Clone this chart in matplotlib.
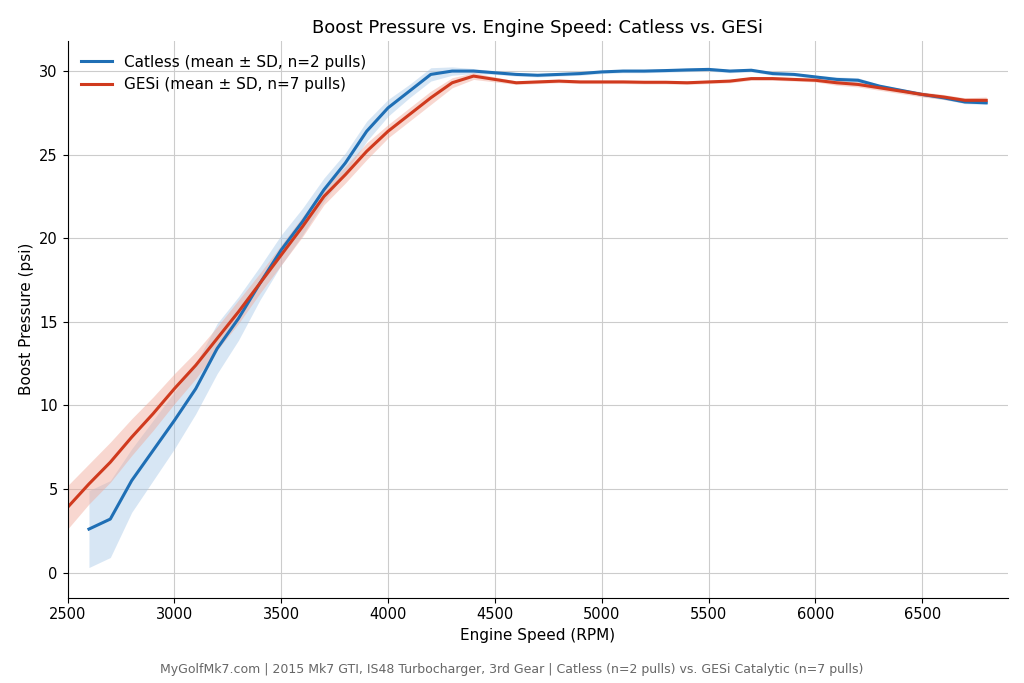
import matplotlib
matplotlib.use("Agg")
import matplotlib.pyplot as plt
import numpy as np

rpm_catless = list(range(2600, 6801, 100))
catless_mean = [2.6, 3.2, 5.5, 7.3, 9.1, 11.0, 13.4, 15.2, 17.3, 19.3, 21.0, 22.9, 24.5, 26.4, 27.8,
                28.8, 29.8, 30.0, 30.0, 29.9, 29.8, 29.75, 29.8, 29.85, 29.95, 30.0, 30.0, 30.03,
                30.07, 30.1, 30.0, 30.05, 29.85, 29.8, 29.65, 29.5, 29.45, 29.1, 28.85, 28.6, 28.4,
                28.15, 28.1]
catless_sd = [2.3, 2.3, 1.9, 1.8, 1.7, 1.5, 1.5, 1.3, 1.0, 0.9, 0.8, 0.7, 0.6, 0.6, 0.5,
              0.4, 0.4, 0.25, 0.15, 0.1, 0.1, 0.1, 0.1, 0.1, 0.1, 0.1, 0.1, 0.1,
              0.1, 0.1, 0.1, 0.1, 0.1, 0.1, 0.1, 0.15, 0.15, 0.1, 0.1, 0.1, 0.1, 0.1, 0.1]

rpm_gesi = list(range(2500, 6801, 100))
gesi_mean = [3.9, 5.3, 6.6, 8.1, 9.5, 11.0, 12.4, 14.0, 15.6, 17.3, 19.0, 20.7, 22.5, 23.8, 25.2,
             26.4, 27.4, 28.4, 29.3, 29.7, 29.5, 29.3, 29.35, 29.4, 29.35, 29.35, 29.35, 29.33,
             29.33, 29.3, 29.35, 29.4, 29.55, 29.55, 29.5, 29.45, 29.3, 29.2, 29.0, 28.8, 28.6,
             28.45, 28.25, 28.25]
gesi_sd = [1.3, 1.2, 1.2, 1.1, 1.0, 0.9, 0.8, 0.7, 0.7, 0.6, 0.6, 0.6, 0.5, 0.5, 0.5,
           0.4, 0.4, 0.4, 0.3, 0.2, 0.15, 0.1, 0.1, 0.1, 0.1, 0.1, 0.1, 0.1,
           0.1, 0.1, 0.1, 0.1, 0.1, 0.1, 0.1, 0.1, 0.15, 0.15, 0.15, 0.15, 0.15, 0.15, 0.15, 0.2]

blue = "#1f6fb5"
red = "#d03a1e"

fig, ax = plt.subplots(figsize=(10.24, 6.83), dpi=100)
cm, cs = np.array(catless_mean), np.array(catless_sd)
gm, gs = np.array(gesi_mean), np.array(gesi_sd)
ax.fill_between(rpm_catless, cm - cs, cm + cs, color="#a8c8e8", alpha=0.45, lw=0)
ax.fill_between(rpm_gesi, gm - gs, gm + gs, color="#f0a898", alpha=0.45, lw=0)
ax.plot(rpm_catless, cm, color=blue, lw=2.2, label="Catless (mean ± SD, n=2 pulls)")
ax.plot(rpm_gesi, gm, color=red, lw=2.2, label="GESi (mean ± SD, n=7 pulls)")

ax.set_xlim(2500, 6900)
ax.set_ylim(-1.5, 31.8)
ax.set_xticks(range(2500, 6501, 500))
ax.set_yticks(range(0, 31, 5))
ax.grid(True, color="#cccccc", lw=0.8)
ax.set_axisbelow(True)
for s in ["top", "right"]:
    ax.spines[s].set_visible(False)
ax.set_xlabel("Engine Speed (RPM)", fontsize=11)
ax.set_ylabel("Boost Pressure (psi)", fontsize=11)
ax.set_title("Boost Pressure vs. Engine Speed: Catless vs. GESi", fontsize=13)
ax.tick_params(labelsize=10.5)
ax.legend(loc="upper left", frameon=False, fontsize=11)
fig.text(0.5, 0.015, "MyGolfMk7.com | 2015 Mk7 GTI, IS48 Turbocharger, 3rd Gear | Catless (n=2 pulls) vs. GESi Catalytic (n=7 pulls)",
         ha="center", fontsize=9, color="#666666")
fig.subplots_adjust(left=0.066, right=0.984, top=0.94, bottom=0.125)
fig.savefig("out.png", dpi=100)
